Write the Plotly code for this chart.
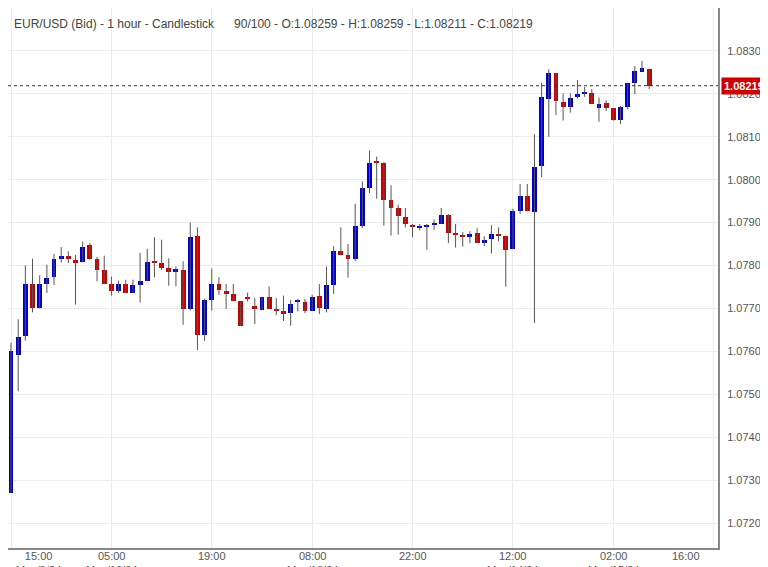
import plotly.graph_objects as go

opens = [1.0727,1.07592,1.07635,1.07757,1.0770,1.07757,1.07773,1.07815,1.07822,1.07810,
 1.07808,1.07847,1.07815,1.07789,1.07758,1.0774,1.07757,1.07737,1.07755,1.07765,
 1.0781,1.07805,1.07794,1.07784,1.0779,1.07699,1.0787,1.07639,1.0772,1.07758,
 1.0774,1.07734,1.07717,1.07726,1.07706,1.07696,1.07727,1.07698,1.07692,1.07689,
 1.07716,1.07714,1.07695,1.0773,1.07699,1.07755,1.07835,1.07825,1.07815,1.07891,
 1.07981,1.08041,1.08038,1.07952,1.07934,1.07913,1.07894,1.07889,1.0789,1.07895,
 1.07897,1.07917,1.07875,1.07872,1.07866,1.07875,1.07852,1.07862,1.07873,1.0787,
 1.07838,1.07926,1.07962,1.07925,1.08031,1.08189,1.08248,1.08181,1.08169,1.08193,
 1.0820,1.08201,1.08166,1.08179,1.08166,1.08138,1.0817,1.08225,1.08252,1.08259]
highs = [1.0762,1.07675,1.0780,1.07816,1.07777,1.07802,1.07827,1.07843,1.07833,1.07825,
 1.07856,1.07852,1.0782,1.07823,1.07774,1.07765,1.07767,1.07767,1.0783,1.07839,
 1.07866,1.0786,1.07817,1.07798,1.0781,1.079,1.07889,1.07723,1.07793,1.07773,
 1.07757,1.07757,1.07717,1.07737,1.07724,1.07727,1.07751,1.07724,1.0773,1.0772,
 1.07722,1.07722,1.07732,1.07757,1.07798,1.07845,1.07889,1.0785,1.07944,1.07996,
 1.08068,1.08054,1.08041,1.07987,1.07942,1.07934,1.07897,1.07897,1.07897,1.07908,
 1.07934,1.0792,1.07897,1.07878,1.0788,1.07887,1.07868,1.07894,1.07889,1.0787,
 1.07932,1.0799,1.0799,1.08106,1.08226,1.08257,1.08248,1.08201,1.08201,1.08232,
 1.08216,1.08211,1.08191,1.08185,1.08166,1.08172,1.08226,1.08265,1.08277,1.08259]
lows = [1.0727,1.07507,1.07625,1.07691,1.0770,1.07736,1.07755,1.07807,1.07806,1.07709,
 1.07808,1.07814,1.07763,1.07758,1.0773,1.07736,1.07737,1.07737,1.07714,1.07765,
 1.07772,1.0779,1.07753,1.07752,1.07662,1.07695,1.07603,1.07624,1.07695,1.07732,
 1.07699,1.07717,1.0766,1.07716,1.07664,1.07696,1.07699,1.07685,1.07671,1.0766,
 1.07693,1.07689,1.07695,1.07687,1.07691,1.07734,1.07825,1.07772,1.0781,1.07887,
 1.07969,1.07956,1.07893,1.0787,1.07872,1.07889,1.07866,1.07882,1.07837,1.07883,
 1.07897,1.07852,1.07842,1.07844,1.07852,1.07852,1.07845,1.07828,1.07856,1.07751,
 1.07838,1.0792,1.07926,1.07666,1.08006,1.081,1.08151,1.08138,1.08156,1.0819,
 1.08193,1.08176,1.08135,1.0816,1.08137,1.08129,1.08164,1.08199,1.08252,1.08211]
closes = [1.0760,1.07633,1.07757,1.07702,1.07757,1.07772,1.07816,1.07822,1.07815,1.07808,
 1.07843,1.07815,1.07789,1.07758,1.0774,1.07757,1.07737,1.07755,1.07765,1.07809,
 1.07807,1.07794,1.07784,1.07793,1.07699,1.07866,1.07639,1.07719,1.07758,1.07742,
 1.07736,1.07717,1.0766,1.07721,1.07699,1.07727,1.07699,1.07693,1.07689,1.07711,
 1.07718,1.07695,1.07727,1.07702,1.07755,1.07835,1.07825,1.07816,1.07891,1.07981,
 1.0804,1.08039,1.07953,1.07934,1.07916,1.07897,1.07889,1.07891,1.07891,1.07897,
 1.07917,1.07876,1.07873,1.07866,1.07873,1.07852,1.0786,1.07873,1.0787,1.07837,
 1.07926,1.07962,1.07926,1.0803,1.08193,1.08248,1.08183,1.08169,1.08191,1.08199,
 1.08201,1.08176,1.08177,1.08166,1.08138,1.0817,1.08225,1.08253,1.0826,1.08219]

tick_idx = [0, 14, 28, 42, 56, 70, 84, 98]
tick_labels = ["15:00<br>May/9/24", "05:00<br>May/10/24", "19:00", "08:00<br>May/13/24",
               "22:00", "12:00<br>May/14/24", "02:00<br>May/15/24", "16:00"]
y_ticks = [1.072 + 0.001 * k for k in range(13)]
last_price = closes[-1]
title = "EUR/USD (Bid) - 1 hour - Candlestick \u00a0\u00a0\u00a0\u00a0 90/100 - O:1.08259 - H:1.08259 - L:1.08211 - C:1.08219"

BLUE, RED = "#0000c8", "#c80000"
FONT = "Liberation Sans"
idx = list(range(len(opens)))

wx, wy = [], []
for i in idx:
    wx += [i, i, None]
    wy += [lows[i], highs[i], None]

base = [min(o, c) for o, c in zip(opens, closes)]
height = [max(abs(c - o), 0.00004) for o, c in zip(opens, closes)]
colors = [BLUE if c >= o else RED for o, c in zip(opens, closes)]

fig = go.Figure()
fig.add_trace(go.Scatter(x=wx, y=wy, mode="lines", line=dict(color="#555555", width=1),
                         hoverinfo="skip", showlegend=False))
fig.add_trace(go.Bar(x=idx, y=height, base=base, width=0.68, marker=dict(color=colors, line=dict(width=0)),
                     showlegend=False))

fig.add_shape(type="line", xref="paper", x0=0, x1=1, yref="y", y0=last_price, y1=last_price,
              line=dict(color="#333333", width=1, dash="dot"))
fig.add_annotation(xref="paper", x=1.0, yref="y", y=last_price, xanchor="left", yanchor="middle",
                   text=f"<b>{last_price:.5f}</b>", showarrow=False, bgcolor="#cc0000",
                   font=dict(color="white", size=11, family=FONT), borderpad=2, xshift=3)
fig.add_annotation(xref="paper", yref="paper", x=0.0, y=1.0, xanchor="left", yanchor="top",
                   text=title, showarrow=False, xshift=4, yshift=-7,
                   font=dict(size=12, color="#444444", family=FONT))

for j, (t, lab) in enumerate(zip(tick_idx, tick_labels)):
    anchor, shift = "center", 0
    if j == 0:
        anchor, shift = "left", 3
    if j == len(tick_idx) - 1:
        anchor, shift = "right", -12
    fig.add_annotation(x=t, xref="x", yref="paper", y=0, yanchor="top", xanchor=anchor, xshift=shift,
                       text=lab, showarrow=False, yshift=0,
                       font=dict(size=11, color="#555555", family=FONT))

fig.update_layout(
    width=768, height=567, margin=dict(l=0, r=58, t=0, b=27, autoexpand=False),
    plot_bgcolor="white", paper_bgcolor="white", bargap=0, hovermode=False,
    xaxis=dict(range=[-0.42, 98.6], tickvals=tick_idx, showticklabels=False, showgrid=True,
               gridcolor="#ebebeb", zeroline=False, showline=True, linecolor="#888888", linewidth=2,
               automargin=False),
    yaxis=dict(side="right", range=[1.07142, 1.0840], tickvals=y_ticks, tickformat=".5f",
               showgrid=True, gridcolor="#ebebeb", zeroline=False, showline=True,
               linecolor="#888888", linewidth=2, ticks="", ticklabelstandoff=5, automargin=False,
               tickfont=dict(size=11, color="#555555", family=FONT)),
)
fig.write_html("out.html")
